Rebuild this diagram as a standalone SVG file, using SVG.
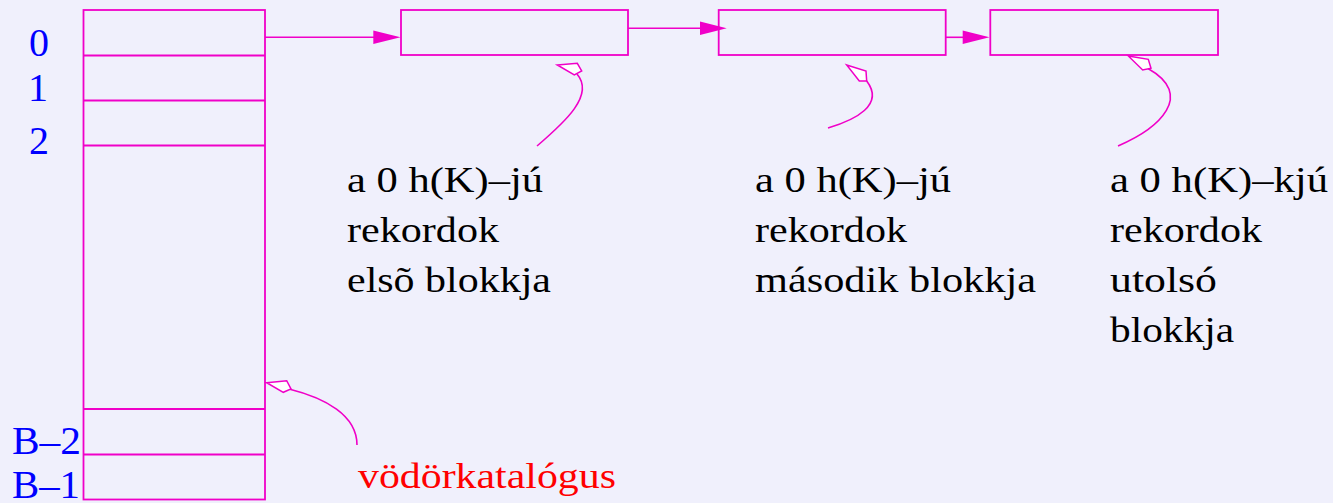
<svg xmlns="http://www.w3.org/2000/svg" width="1333" height="503" viewBox="0 0 1333 503">
<style>
.ln{fill:none;stroke:#f000c8;stroke-width:1.6}
.box{fill:none;stroke:#f000c8;stroke-width:1.8}
.head{fill:#f000c8;stroke:none}
.kite{fill:#ffffff;stroke:#f000c8;stroke-width:1.5;stroke-linejoin:miter}
.lbl{font-family:"Liberation Serif","Times New Roman",serif;font-size:40px;fill:#0000ff}
.txt{font-family:"Liberation Serif","Times New Roman",serif;font-size:36px;fill:#000000}
.red{font-family:"Liberation Serif","Times New Roman",serif;font-size:36px;fill:#ff0000}
</style>
<rect x="0" y="0" width="1333" height="503" fill="#f0f0fc"/>

<g id="catalog">
<rect class="box" x="83.5" y="10" width="181.5" height="489.5"/>
<line class="box" x1="83.5" y1="55.5" x2="265" y2="55.5"/>
<line class="box" x1="83.5" y1="100.5" x2="265" y2="100.5"/>
<line class="box" x1="83.5" y1="145.5" x2="265" y2="145.5"/>
<line class="box" x1="83.5" y1="409" x2="265" y2="409"/>
<line class="box" x1="83.5" y1="454.5" x2="265" y2="454.5"/>
<text class="lbl" x="29" y="56">0</text>
<text class="lbl" x="28" y="100.5">1</text>
<text class="lbl" x="29" y="154">2</text>
<text class="lbl" x="12" y="454" textLength="69" lengthAdjust="spacingAndGlyphs">B–2</text>
<text class="lbl" x="12" y="498" textLength="68" lengthAdjust="spacingAndGlyphs">B–1</text>
</g>

<g id="block1">
<rect class="box" x="401" y="10" width="227" height="45"/>
</g>
<g id="block2">
<rect class="box" x="718.7" y="10" width="227" height="45"/>
</g>
<g id="block3">
<rect class="box" x="990.3" y="10" width="227.7" height="45"/>
</g>

<g id="connectors">
<line class="ln" x1="265" y1="37.3" x2="375" y2="37.3"/>
<polygon class="head" points="373.3,30.6 400.5,37.3 373.3,44"/>
<line class="ln" x1="628" y1="28.3" x2="701" y2="28.3"/>
<polygon class="head" points="700,21.6 726.7,28.3 700,35"/>
<line class="ln" x1="946" y1="37.3" x2="964" y2="37.3"/>
<polygon class="head" points="962.7,30.6 989.5,37.3 962.7,44"/>

<path class="ln" d="M537,146 C565,122 595,95 577,74"/>
<polygon class="kite" points="557.3,65 577.3,63.3 581.7,71 574.3,75"/>
<path class="ln" d="M828,128 C855,120 885,105 866.7,81"/>
<polygon class="kite" points="846.7,65 866,71 866.7,81 859.3,81"/>
<path class="ln" d="M1118,146 C1160,128 1195,95 1148,68.5"/>
<polygon class="kite" points="1128.3,56 1148.3,59.3 1151,68.3 1142.7,70"/>
<path class="ln" d="M289,389 C325,398 357,415 357,445"/>
<polygon class="kite" points="266.7,382.7 286.7,380.7 291,389 283.3,392.3"/>
</g>

<g id="label1">
<text class="txt" x="347" y="192" textLength="196" lengthAdjust="spacingAndGlyphs">a 0 h(K)–jú</text>
<text class="txt" x="347" y="242" textLength="152" lengthAdjust="spacingAndGlyphs">rekordok</text>
<text class="txt" x="347" y="292" textLength="204" lengthAdjust="spacingAndGlyphs">elsõ blokkja</text>
</g>
<g id="label2">
<text class="txt" x="755" y="192" textLength="196" lengthAdjust="spacingAndGlyphs">a 0 h(K)–jú</text>
<text class="txt" x="755" y="242" textLength="152" lengthAdjust="spacingAndGlyphs">rekordok</text>
<text class="txt" x="755" y="292" textLength="281" lengthAdjust="spacingAndGlyphs">második blokkja</text>
</g>
<g id="label3">
<text class="txt" x="1110" y="192" textLength="218" lengthAdjust="spacingAndGlyphs">a 0 h(K)–kjú</text>
<text class="txt" x="1110" y="242" textLength="152" lengthAdjust="spacingAndGlyphs">rekordok</text>
<text class="txt" x="1110" y="292" textLength="107" lengthAdjust="spacingAndGlyphs">utolsó</text>
<text class="txt" x="1110" y="342" textLength="124" lengthAdjust="spacingAndGlyphs">blokkja</text>
</g>
<g id="label4">
<text class="red" x="358" y="488" textLength="258" lengthAdjust="spacingAndGlyphs">vödörkatalógus</text>
</g>
</svg>
